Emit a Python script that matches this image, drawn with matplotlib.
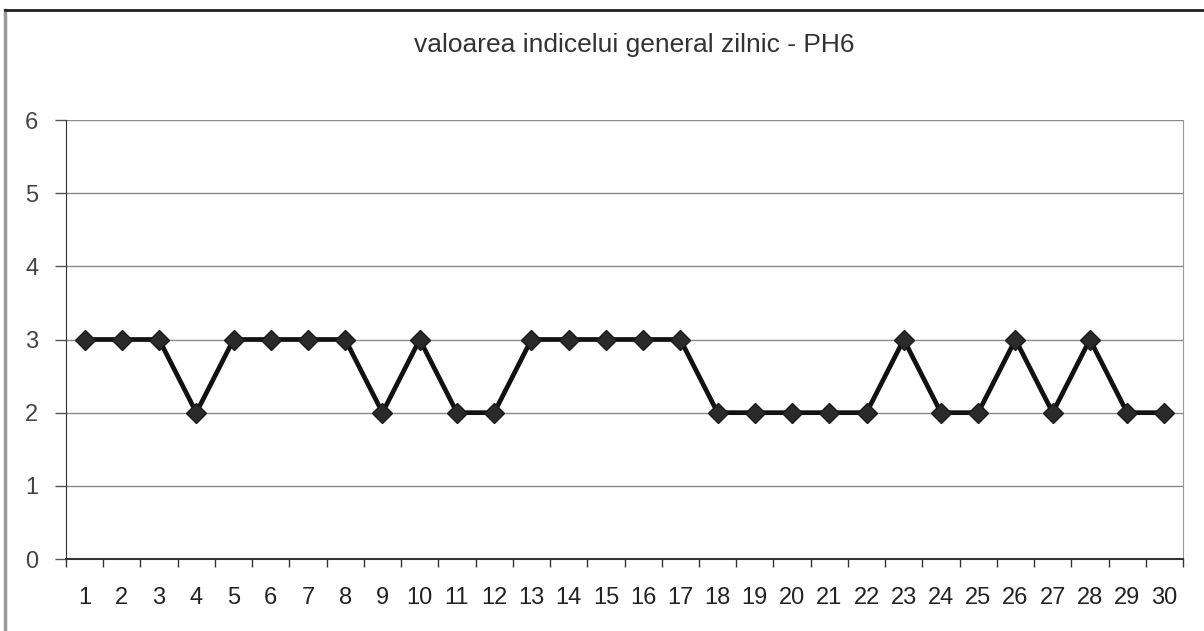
import numpy as np
import matplotlib.pyplot as plt
from matplotlib.lines import Line2D

plt.rcParams['font.family'] = ['Liberation Sans', 'DejaVu Sans']

# daily values
days = [str(d) for d in range(1, 31)]
values = [3, 3, 3, 2, 3, 3, 3, 3, 2, 3, 2, 2, 3, 3, 3, 3, 3,
          2, 2, 2, 2, 2, 3, 2, 2, 3, 2, 3, 2, 2]
y_ticks = [0, 1, 2, 3, 4, 5, 6]
title = 'valoarea indicelui general zilnic - PH6'

W, H = 1204, 631
fig = plt.figure(figsize=(W / 100, H / 100), dpi=100)
ax = fig.add_axes([66 / W, 1 - 559 / H, (1183 - 66) / W, (559 - 120) / H])

x = np.arange(len(days))
ax.plot(x, values, color='#111111', lw=3.4, marker='D', markersize=10.5,
        markerfacecolor='#2a2a2a', markeredgecolor='#1a1a1a', markeredgewidth=1,
        zorder=3, clip_on=False)

ax.set_xlim(-0.5, len(days) - 0.5)
ax.set_ylim(0, 6)
ax.set_yticks(y_ticks)
ax.set_yticklabels([str(v) for v in y_ticks], color='#444444', fontsize=17)
ax.tick_params(axis='y', length=8, width=1, color='#555555', pad=12)

# ticks between categories, labels at the centers
ax.set_xticks(np.arange(-0.5, len(days)), minor=False)
ax.set_xticklabels([])
ax.set_xticks(x, minor=True)
ax.set_xticklabels(days, minor=True, fontsize=17, color='#222222')
ax.tick_params(axis='x', which='major', length=6, width=1, color='#333333')
ax.tick_params(axis='x', which='minor', length=0, pad=20)

ax.grid(axis='y', color='#8a8a8a', lw=1)
ax.set_axisbelow(True)
ax.spines['top'].set_visible(False)
ax.spines['right'].set_color('#9a9a9a')
ax.spines['left'].set_color('#333333')
ax.spines['bottom'].set_color('#333333')
ax.spines['bottom'].set_linewidth(1.5)

fig.text(634 / W, 1 - 45 / H, title, ha='center', va='center', fontsize=19, color='#333333')

# outer chart frame
fig.add_artist(Line2D([5 / W, 5 / W], [0, 1 - 10 / H], color='#999999', lw=2.5))
fig.add_artist(Line2D([5 / W, 1], [1 - 10 / H, 1 - 10 / H], color='#222222', lw=2))

fig.savefig('out.png', dpi=100)
